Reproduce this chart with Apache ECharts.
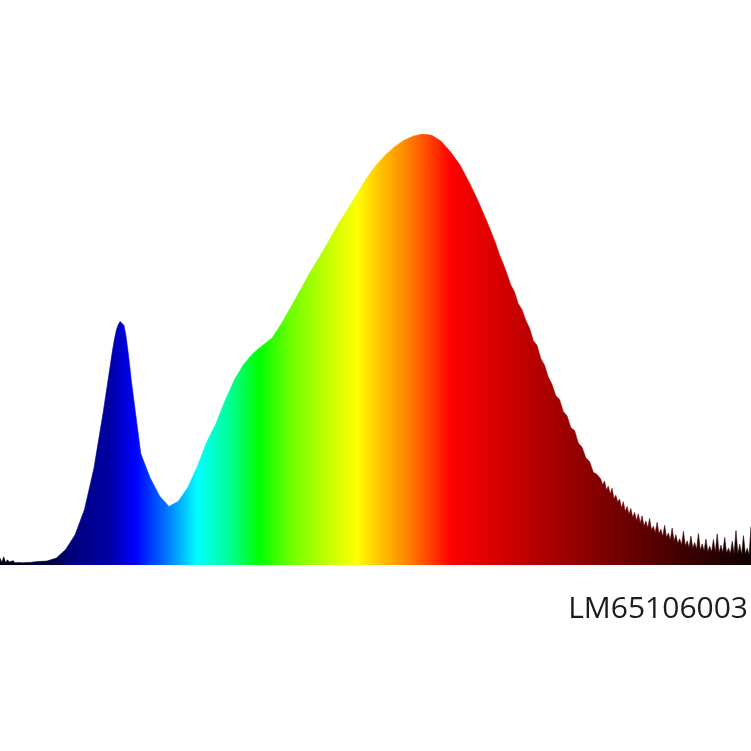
<!DOCTYPE html>
<html>
<head>
<meta charset="utf-8">
<script src="https://cdn.jsdelivr.net/npm/echarts@6/dist/echarts.min.js"></script>
<style>
html,body{margin:0;padding:0;background:#fff;}
#chart{width:751px;height:751px;}
</style>
</head>
<body>
<div id="chart"></div>
<script>
// Sample wavelengths (nm), grouped in runs [start, end, step]
const wavelengthRuns = [
  [380, 400, 1],
  [405, 440, 5],
  [441, 450, 1],
  [455, 640, 5],
  [642, 698, 2],
  [700, 780, 1]
];

const intensity = [
  // 380-400 (1 nm)
  1.6,0.6,1.9,0.5,1.2,0.7,0.6,1.0,0.5,0.8,0.6,0.7,0.5,0.9,0.6,0.7,0.6,0.8,0.7,0.9,0.8,
  // 405-440 (5 nm)
  0.9,1.6,3.6,7.0,12.9,22.4,35.5,50.0,
  // 441-450 (1 nm)
  52.5,54.5,55.8,56.5,56.4,55.6,53.4,50.2,46.5,42.5,
  // 455-640 (5 nm)
  25.8,20.2,16.0,13.6,14.8,18.0,22.8,28.4,32.8,38.3,43.1,46.7,49.2,51.0,52.7,56.1,59.9,63.8,
  67.8,71.4,75.1,79.0,82.4,86.0,89.6,92.6,95.0,97.0,98.5,99.5,100,99.7,98.3,95.8,92.8,88.7,84.1,79.0,
  // 642-698 (2 nm)
  76.8,74.6,72.0,69.9,67.6,65.0,63.4,60.6,59.3,56.8,55.0,52.1,51.0,47.9,46.4,43.6,41.9,39.3,38.4,
  35.6,34.6,31.9,31.2,28.3,27.3,24.9,24.0,21.5,21.0,
  // 700-780 (1 nm)
  19.9,18.6,19.5,17.4,18.3,16.5,17.8,15.4,16.2,14.6,15.3,13.2,14.7,12.4,13.6,11.8,13.1,11.0,12.2,10.3,
  11.9,9.6,11.4,9.0,10.2,8.6,10.8,8.1,9.0,7.5,9.9,7.2,8.3,6.6,9.2,6.4,7.4,5.8,8.6,5.5,
  7.0,5.0,6.1,4.6,7.8,4.4,5.6,4.0,6.7,3.9,5.2,3.6,7.3,3.4,4.9,3.3,6.0,3.1,4.4,3.0,
  5.9,2.9,7.2,2.8,4.6,2.9,6.4,2.7,3.9,2.6,5.5,2.6,8.0,2.5,4.8,2.4,6.8,2.5,3.9,2.3,9.0
];

const label = 'LM65106003';

const wavelengths = [];
wavelengthRuns.forEach(function (r) {
  for (let w = r[0]; w <= r[1] + 1e-9; w += r[2]) wavelengths.push(w);
});
const seriesData = wavelengths.map(function (w, i) { return [w, intensity[i]]; });

const nmMin = 380, nmMax = 780;
const spectrumStops = [
  [380, '#000010'], [407, '#000040'], [417, '#000078'], [439, '#0000a8'],
  [452, '#0000ff'], [468, '#0070ff'], [485, '#00ffff'], [503, '#00ff90'],
  [518, '#00ff00'], [535, '#70ff00'], [551, '#b4ff00'], [570, '#ffff00'],
  [583, '#ffc000'], [596, '#ff8800'], [609, '#ff4000'], [620, '#ff0000'],
  [647, '#d40000'], [679, '#a00000'], [711, '#700000'], [743, '#400000'], [780, '#100000']
].map(function (s) { return { offset: (s[0] - nmMin) / (nmMax - nmMin), color: s[1] }; });

const chart = echarts.init(document.getElementById('chart'), null, { renderer: 'canvas' });
chart.setOption({
  animation: false,
  backgroundColor: '#ffffff',
  grid: { left: 0, right: 0, top: 134, bottom: 186, containLabel: false },
  xAxis: { type: 'value', min: nmMin, max: nmMax, show: false },
  yAxis: { type: 'value', min: 0, max: 100, show: false },
  series: [{
    type: 'line',
    data: seriesData,
    showSymbol: false,
    smooth: false,
    lineStyle: { width: 0.6, color: new echarts.graphic.LinearGradient(0, 0, 1, 0, spectrumStops) },
    areaStyle: { opacity: 1, color: new echarts.graphic.LinearGradient(0, 0, 1, 0, spectrumStops) }
  }],
  graphic: [{
    type: 'text',
    right: 3,
    top: 594,
    style: {
      text: label,
      font: '30px "Open Sans", sans-serif',
      fill: '#1c1c1c'
    }
  }]
});
</script>
</body>
</html>
